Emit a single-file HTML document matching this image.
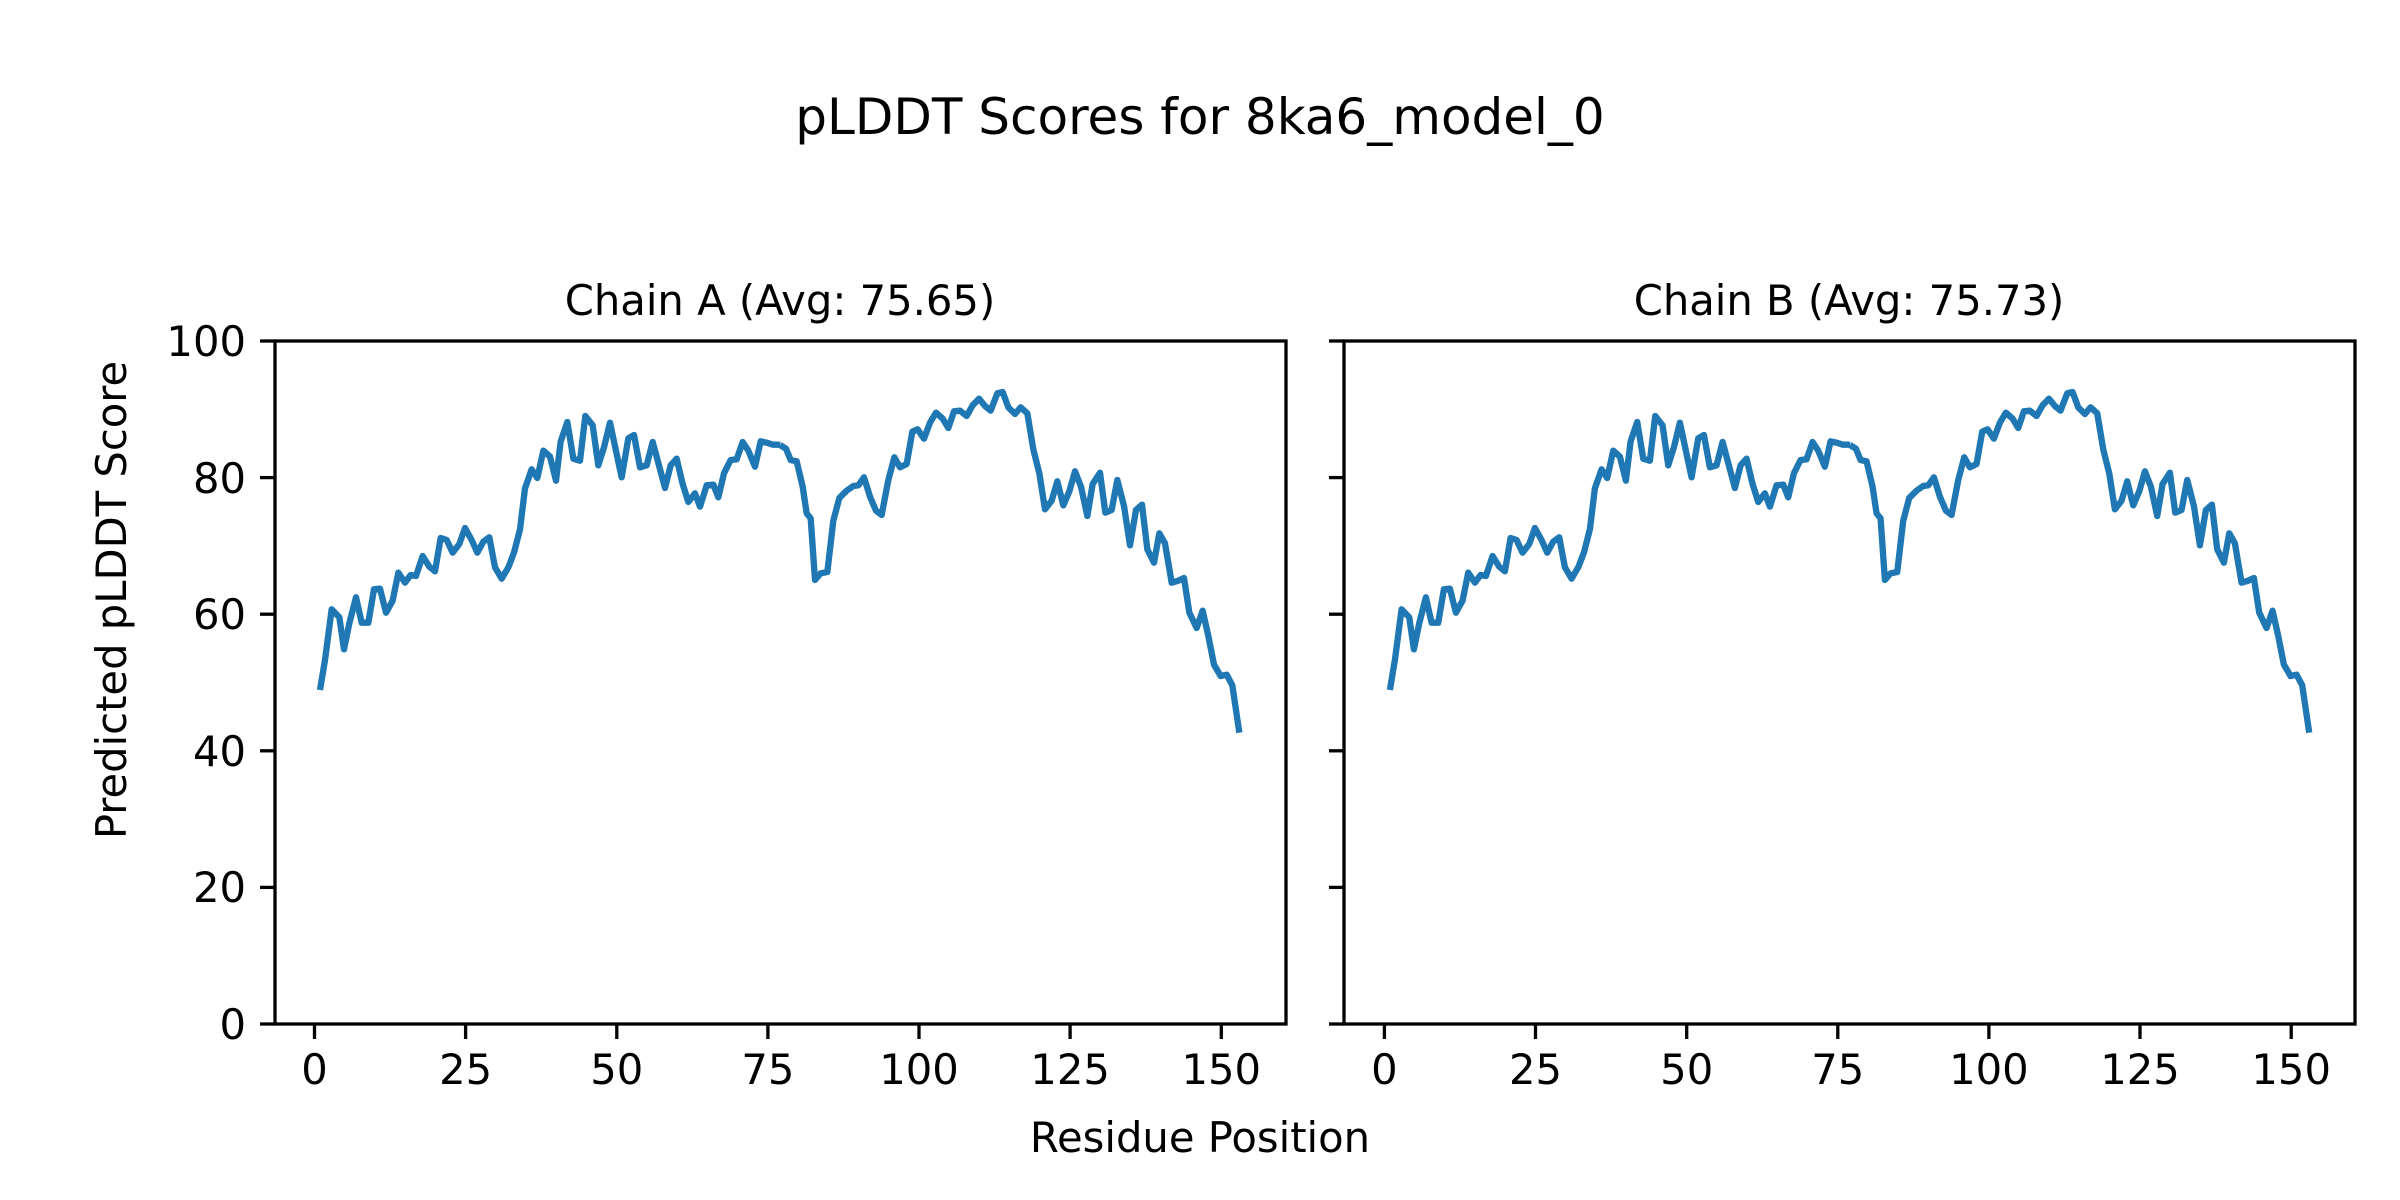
<!DOCTYPE html>
<html><head><meta charset="utf-8"><style>
html,body{margin:0;padding:0;background:#fff}
svg{display:block}
text{font-family:"DejaVu Sans","Liberation Sans",sans-serif;fill:#000}
</style></head><body>
<svg width="2400" height="1200" viewBox="0 0 2400 1200" xmlns="http://www.w3.org/2000/svg">
<rect width="2400" height="1200" fill="#fff"/>
<text x="1200" y="134" font-size="50" text-anchor="middle">pLDDT Scores for 8ka6_model_0</text>
<text x="780" y="315" font-size="41.7" text-anchor="middle">Chain A (Avg: 75.65)</text>
<text x="1849" y="315" font-size="41.7" text-anchor="middle">Chain B (Avg: 75.73)</text>
<text x="1200" y="1152" font-size="41.7" text-anchor="middle">Residue Position</text>
<text transform="translate(126,600) rotate(-90)" font-size="41.7" text-anchor="middle">Predicted pLDDT Score</text>

<defs>
<g id="line">
<g transform="translate(300,360) scale(0.33333)">
<polyline fill="none" stroke="#1f77b4" stroke-width="19" stroke-linejoin="round" stroke-linecap="butt" points="60,990 75,900 95,748 118,772 132,868 148,790 168,712 185,788 205,788 222,688 240,686 258,758 278,722 295,638 315,668 332,645 348,648 368,588 388,620 405,634 422,534 440,540 458,578 478,552 495,504 515,540 532,578 550,545 568,532 585,622 605,656 625,622 642,578 660,508 675,385 695,328 712,354 730,272 750,290 768,362 782,245 802,186 820,296 840,302 856,168 878,196 895,316 912,262 930,188 950,282 965,352 985,235 1002,225 1020,322 1040,316 1058,246 1078,320 1095,384 1112,316 1130,296 1148,372 1165,426 1185,400 1200,440 1220,376 1240,374 1255,412 1272,340 1292,300 1310,298 1328,246 1345,272 1365,320 1382,244 1400,248 1418,254 1435,254 1440,255"/>
</g>
<g transform="translate(780,360) scale(0.33333)">
<polyline fill="none" stroke="#1f77b4" stroke-width="19" stroke-linejoin="round" stroke-linecap="butt" points="0,255 18,266 32,300 50,304 68,380 80,460 92,475 105,660 122,640 142,636 160,482 178,414 200,392 220,378 235,376 252,352 270,410 288,452 305,465 325,360 343,292 360,322 380,312 397,215 413,208 432,236 450,188 468,158 488,176 505,204 522,154 540,152 560,168 578,136 597,116 615,138 632,152 652,100 668,96 685,142 705,162 722,142 742,160 760,268 778,340 795,448 815,422 832,364 850,436 868,394 885,334 903,380 922,468 938,372 960,338 976,458 995,450 1012,360 1032,438 1050,556 1068,450 1086,434 1102,568 1122,608 1138,520 1155,550 1175,668 1195,662 1212,654 1228,758 1250,804 1268,752 1285,828 1302,914 1322,948 1340,944 1357,976 1378,1118"/>
</g>
</g>
<g id="xt" stroke="#000" stroke-width="3.3">
<line x1="0" y1="1024" x2="0" y2="1039"/>
<line x1="151.1" y1="1024" x2="151.1" y2="1039"/>
<line x1="302.3" y1="1024" x2="302.3" y2="1039"/>
<line x1="453.4" y1="1024" x2="453.4" y2="1039"/>
<line x1="604.5" y1="1024" x2="604.5" y2="1039"/>
<line x1="755.6" y1="1024" x2="755.6" y2="1039"/>
<line x1="906.8" y1="1024" x2="906.8" y2="1039"/>
</g>
<g id="xl" font-size="41.7" text-anchor="middle">
<text x="0" y="1084">0</text>
<text x="151.1" y="1084">25</text>
<text x="302.3" y="1084">50</text>
<text x="453.4" y="1084">75</text>
<text x="604.5" y="1084">100</text>
<text x="755.6" y="1084">125</text>
<text x="906.8" y="1084">150</text>
</g>
<g id="yt" stroke="#000" stroke-width="3.3">
<line x1="-15" y1="1024" x2="0" y2="1024"/>
<line x1="-15" y1="887.4" x2="0" y2="887.4"/>
<line x1="-15" y1="750.8" x2="0" y2="750.8"/>
<line x1="-15" y1="614.2" x2="0" y2="614.2"/>
<line x1="-15" y1="477.6" x2="0" y2="477.6"/>
<line x1="-15" y1="341" x2="0" y2="341"/>
</g>
</defs>

<!-- Chain A -->
<use href="#line"/>
<rect x="275" y="341" width="1011" height="683" fill="none" stroke="#000" stroke-width="3.3"/>
<use href="#xt" x="314.5"/>
<use href="#xl" x="314.5"/>
<use href="#yt" x="275"/>
<g font-size="41.7" text-anchor="end">
<text x="246" y="1039">0</text>
<text x="246" y="902">20</text>
<text x="246" y="766">40</text>
<text x="246" y="629">60</text>
<text x="246" y="493">80</text>
<text x="246" y="356">100</text>
</g>

<!-- Chain B -->
<use href="#line" x="1069.9"/>
<rect x="1344" y="341" width="1011" height="683" fill="none" stroke="#000" stroke-width="3.3"/>
<use href="#xt" x="1384.4"/>
<use href="#xl" x="1384.4"/>
<use href="#yt" x="1344"/>
</svg>
</body></html>
